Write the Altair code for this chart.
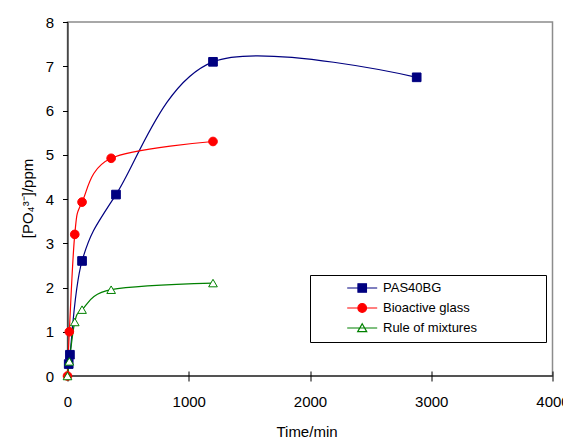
import altair as alt
import pandas as pd

# ---- data ----
series_names = ["PAS40BG", "Bioactive glass", "Rule of mixtures"]
pas_t = [10, 20, 120, 400, 1200, 2880]
pas_v = [0.27, 0.48, 2.6, 4.1, 7.1, 6.75]
bg_t = [0, 15, 60, 120, 360, 1200]
bg_v = [0.0, 1.0, 3.2, 3.93, 4.92, 5.3]
rom_t = [0, 15, 60, 120, 360, 1200]
rom_v = [0.0, 0.33, 1.22, 1.5, 1.95, 2.1]

x_ticks = [0, 1000, 2000, 3000, 4000]
y_ticks = [0, 1, 2, 3, 4, 5, 6, 7, 8]

# ---- styles ----
FONT = "Liberation Sans, Arial, sans-serif"
line_colors = ["#000080", "#FF0000", "#008000"]
fill_colors = ["#000080", "#FF0000", "#FFFFFF"]
point_shapes = ["square", "circle", "triangle-up"]
# legend symbols: a short line with the marker on it (unit = 5 px at size 100);
# the zero-length segment at the end only widens the legend frame
legend_paths = [
    "M-3,0H3M-0.85,-0.85H0.85V0.85H-0.85ZM34.9,0L34.9,0",
    "M-3,0H3M-0.86,0A0.86,0.86,0,1,1,0.86,0A0.86,0.86,0,1,1,-0.86,0ZM34.9,0L34.9,0",
    "M-3,0H3M0,-0.85L0.9,0.72L-0.9,0.72ZM34.9,0L34.9,0",
]

frames = []
for name, t, v in [(series_names[0], pas_t, pas_v),
                   (series_names[1], bg_t, bg_v),
                   (series_names[2], rom_t, rom_v)]:
    frames.append(pd.DataFrame({"series": name, "t": t, "v": v}))
df = pd.concat(frames, ignore_index=True)

x_enc = alt.X(
    "t:Q",
    scale=alt.Scale(domain=[0, 4000], nice=False),
    axis=alt.Axis(
        values=x_ticks, format="d", tickSize=10, offset=-5, domain=False,
        grid=False, labelFlush=False, labelFont=FONT, labelFontSize=15,
        labelColor="black", labelPadding=13, tickColor="black", tickWidth=1,
        title="Time/min", titleFont=FONT, titleFontSize=15,
        titleFontWeight="normal", titleColor="black", titleX=239, titleY=65,
        titleBaseline="alphabetic", titleAlign="center",
    ),
)
y_enc = alt.Y(
    "v:Q",
    scale=alt.Scale(domain=[0, 8], nice=False),
    axis=alt.Axis(
        values=y_ticks, format="d", tickSize=5, domainColor="black",
        domainWidth=1, tickColor="black", tickWidth=1, grid=False,
        labelFont=FONT, labelFontSize=15, labelColor="black", labelPadding=9,
        title="[PO₄³⁻]/ppm", titleFont=FONT, titleFontSize=15,
        titleFontWeight="normal", titleColor="black", titleX=-40.5,
        titleY=176, titleAngle=270, titleBaseline="middle", titleAlign="center",
    ),
)

layers = []
# x baseline
layers.append(
    alt.Chart(pd.DataFrame({"base": [0]}))
    .mark_rule(color="black", strokeWidth=1)
    .encode(y=alt.datum(0))
)
for i, name in enumerate(series_names):
    sub = df[df["series"] == name]
    layers.append(
        alt.Chart(sub).mark_line(interpolate="cardinal", color=line_colors[i],
                                 strokeWidth=1.2).encode(x=x_enc, y=y_enc)
    )
for i, name in enumerate(series_names):
    sub = df[df["series"] == name]
    layers.append(
        alt.Chart(sub).mark_point(shape=point_shapes[i], size=75, filled=True,
                                  fill=fill_colors[i], stroke=line_colors[i],
                                  strokeWidth=1, opacity=1)
        .encode(x=x_enc, y=y_enc)
    )

legend = alt.Legend(
    title=None, orient="none", legendX=242.5, legendY=253, padding=6.5,
    strokeColor="black", fillColor="white", labelFont=FONT, labelFontSize=13,
    labelColor="black", rowPadding=5, symbolOffset=39.2, labelOffset=14.3,
    symbolSize=100, symbolOpacity=1, symbolStrokeWidth=1.2, labelLimit=400,
)
layers.append(
    alt.Chart(df).mark_point(opacity=0, size=100).encode(
        x=x_enc, y=y_enc,
        shape=alt.Shape("series:N", scale=alt.Scale(domain=series_names, range=legend_paths), legend=legend),
        fill=alt.Fill("series:N", scale=alt.Scale(domain=series_names, range=fill_colors), legend=legend),
        stroke=alt.Stroke("series:N", scale=alt.Scale(domain=series_names, range=line_colors), legend=legend),
    )
)

chart = alt.layer(*layers).properties(
    width=485, height=354,
    padding={"left": 59.5, "top": 14, "right": 10.5, "bottom": 62},
    autosize=alt.AutoSizeParams(type="none"),
).configure_view(stroke="#8c8c8c", strokeWidth=1.5)

chart.save("out.html", embed_options={"renderer": "svg", "actions": False})
